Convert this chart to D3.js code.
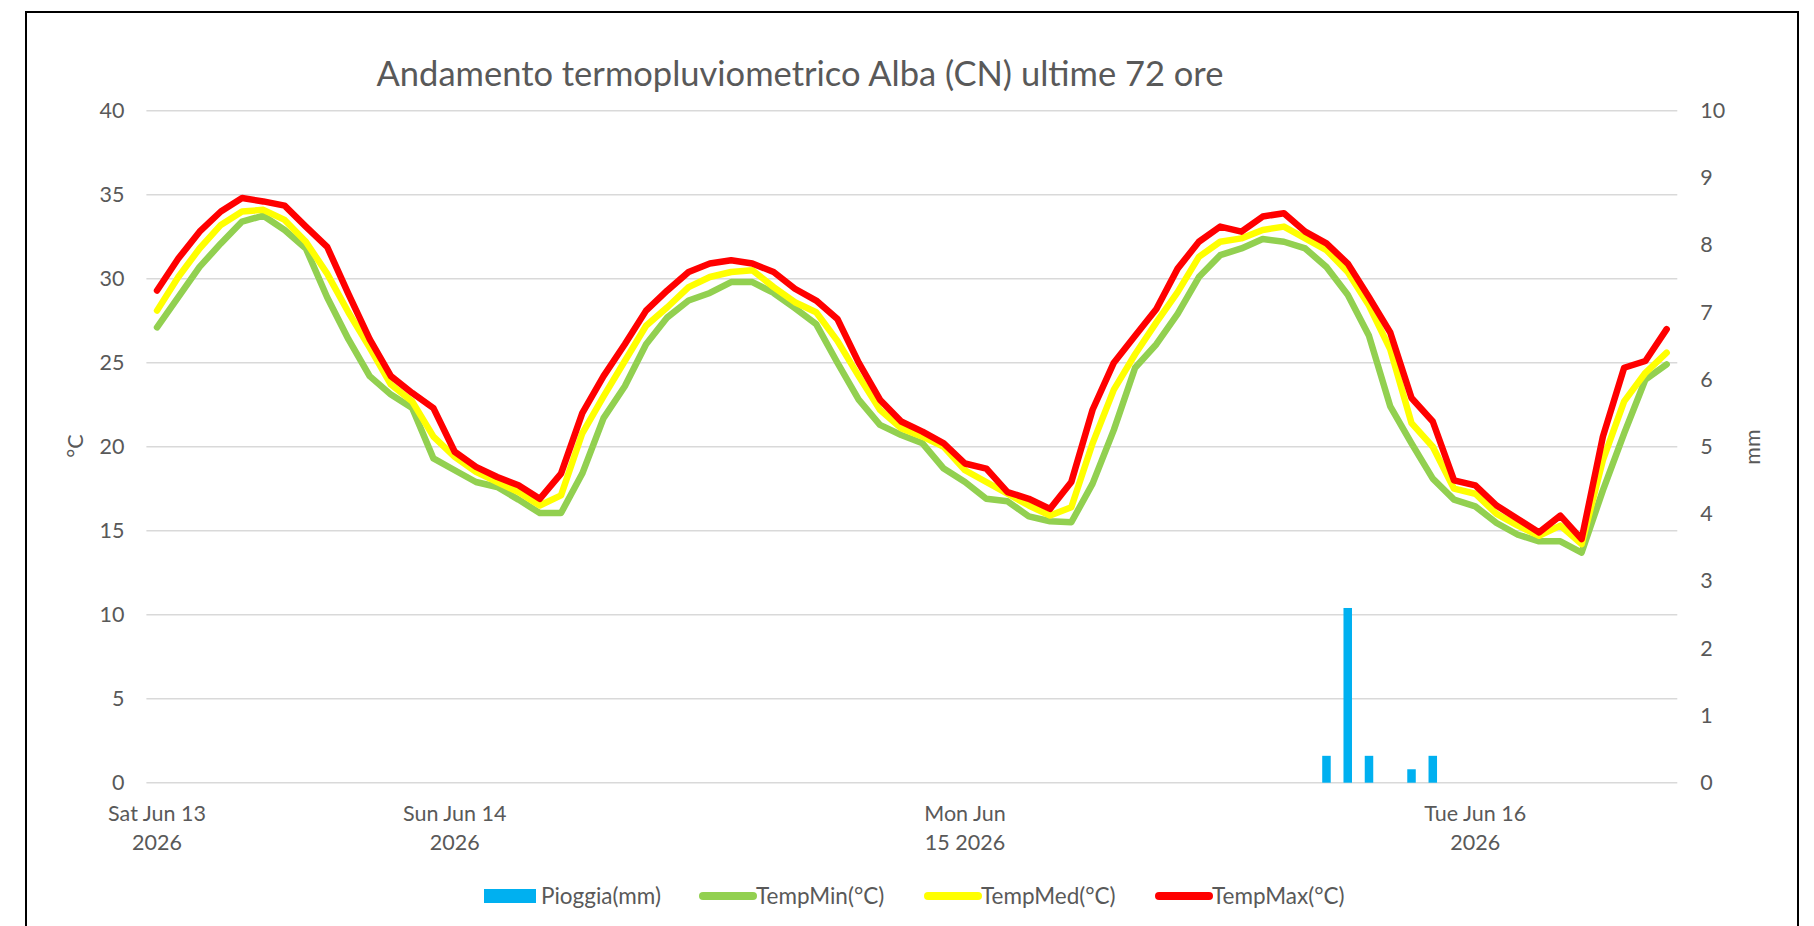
<!DOCTYPE html>
<html>
<head>
<meta charset="utf-8">
<script src="https://cdn.jsdelivr.net/npm/d3@7"></script>
<style>
  body { margin: 0; background: #fff; }
  text { font-family: Lato, "Open Sans", sans-serif; fill: #595959; }
</style>
</head>
<body>
<script>
var width = 1814, height = 926;

// hourly readings, Sat Jun 13 2026 10:00 -> 72 hours
var hours = d3.range(72);

var tempMax = [29.3, 31.2, 32.8, 34.0, 34.8, 34.6, 34.35, 33.1, 31.9, 29.1, 26.4, 24.2,
  23.2, 22.3, 19.7, 18.8, 18.2, 17.7, 16.9, 18.4, 22.0, 24.2, 26.1, 28.1,
  29.3, 30.4, 30.9, 31.1, 30.9, 30.4, 29.4, 28.7, 27.6, 25.0, 22.8, 21.5,
  20.9, 20.2, 19.0, 18.7, 17.3, 16.9, 16.3, 17.9, 22.2, 25.0, 26.6, 28.2,
  30.6, 32.2, 33.1, 32.8, 33.7, 33.9, 32.8, 32.1, 30.9, 28.9, 26.8, 22.9,
  21.5, 18.0, 17.7, 16.5, 15.7, 14.9, 15.9, 14.5, 20.6, 24.7, 25.1, 27.0];

var tempMed = [28.1, 30.1, 31.8, 33.2, 34.0, 34.1, 33.5, 32.2, 30.3, 28.0, 25.9, 23.7,
  22.7, 20.6, 19.4, 18.5, 17.9, 17.3, 16.5, 17.1, 20.8, 23.0, 25.1, 27.2,
  28.3, 29.5, 30.1, 30.4, 30.5, 29.5, 28.6, 28.0, 26.3, 24.2, 22.2, 21.1,
  20.6, 20.0, 18.6, 17.9, 17.2, 16.5, 15.9, 16.4, 20.2, 23.4, 25.5, 27.4,
  29.2, 31.3, 32.2, 32.4, 32.9, 33.1, 32.4, 31.7, 30.4, 28.4, 25.8, 21.4,
  20.0, 17.5, 17.2, 16.0, 15.3, 14.7, 15.3, 14.2, 19.2, 22.7, 24.4, 25.6];

var tempMin = [27.1, 28.9, 30.7, 32.1, 33.4, 33.75, 32.9, 31.8, 28.9, 26.4, 24.2, 23.1,
  22.3, 19.3, 18.6, 17.9, 17.6, 16.85, 16.05, 16.05, 18.4, 21.7, 23.6, 26.1,
  27.7, 28.7, 29.15, 29.8, 29.8, 29.15, 28.25, 27.3, 25.0, 22.8, 21.3, 20.7,
  20.2, 18.7, 17.9, 16.9, 16.75, 15.85, 15.56, 15.5, 17.8, 21.0, 24.7, 26.1,
  27.9, 30.1, 31.4, 31.8, 32.36, 32.2, 31.8, 30.7, 29.05, 26.6, 22.4, 20.2,
  18.1, 16.85, 16.45, 15.46, 14.76, 14.37, 14.37, 13.7, 17.4, 20.8, 24.0, 24.9];

var rain = [0, 0, 0, 0, 0, 0, 0, 0, 0, 0, 0, 0,
  0, 0, 0, 0, 0, 0, 0, 0, 0, 0, 0, 0,
  0, 0, 0, 0, 0, 0, 0, 0, 0, 0, 0, 0,
  0, 0, 0, 0, 0, 0, 0, 0, 0, 0, 0, 0,
  0, 0, 0, 0, 0, 0, 0, 0.4, 2.6, 0.4, 0, 0.2,
  0.4, 0, 0, 0, 0, 0, 0, 0, 0, 0, 0, 0];

// category labels shown on the axis (index into hours)
var xTickIndex = [0, 14, 38, 62];
var xTickLabels = [["Sat Jun 13", "2026"], ["Sun Jun 14", "2026"], ["Mon Jun", "15 2026"], ["Tue Jun 16", "2026"]];

var tempTicks = [0, 5, 10, 15, 20, 25, 30, 35, 40];
var rainTicks = [0, 1, 2, 3, 4, 5, 6, 7, 8, 9, 10];

var series = [
  {name: "TempMin(°C)", values: tempMin, color: "#92D050"},
  {name: "TempMed(°C)", values: tempMed, color: "#FFFF00"},
  {name: "TempMax(°C)", values: tempMax, color: "#FF0000"}
];

var margin = {left: 146.4, right: 1677.3, top: 110.7, bottom: 782.7};

var svg = d3.select("body")
            .append("svg")
            .attr("width", width)
            .attr("height", height);

svg.append("rect")
   .attr("width", width).attr("height", height)
   .attr("fill", "#fff");

// chart border (bottom edge falls outside the picture)
svg.append("rect")
   .attr("x", 26).attr("y", 12)
   .attr("width", 1772).attr("height", 960)
   .attr("fill", "none")
   .attr("stroke", "#000")
   .attr("stroke-width", 2);

var x = d3.scaleBand()
          .domain(hours)
          .range([margin.left, margin.right]);

var yT = d3.scaleLinear()
           .domain([0, 40])
           .range([margin.bottom, margin.top]);

var yR = d3.scaleLinear()
           .domain([0, 10])
           .range([margin.bottom, margin.top]);

// gridlines
svg.append("g")
   .selectAll("line")
   .data(tempTicks)
   .enter()
   .append("line")
   .attr("x1", margin.left).attr("x2", margin.right)
   .attr("y1", function(d) { return yT(d); })
   .attr("y2", function(d) { return yT(d); })
   .attr("stroke", "#D9D9D9")
   .attr("stroke-width", 1.4);

// left axis
var leftAxis = svg.append("g")
   .attr("transform", "translate(" + (margin.left - 22) + ",0)")
   .call(d3.axisLeft(yT).tickValues(tempTicks).tickSize(0).tickPadding(0));
leftAxis.select(".domain").remove();

// right axis
var rightAxis = svg.append("g")
   .attr("transform", "translate(" + (margin.right + 23) + ",0)")
   .call(d3.axisRight(yR).tickValues(rainTicks).tickSize(0).tickPadding(0));
rightAxis.select(".domain").remove();

svg.selectAll(".tick text")
   .attr("font-size", 21.5)
   .attr("font-family", "Lato, 'Open Sans', sans-serif")
   .attr("fill", "#595959");

// bottom category axis
var bottomAxis = svg.append("g")
   .attr("transform", "translate(0," + margin.bottom + ")")
   .call(d3.axisBottom(x).tickValues(xTickIndex).tickSize(0).tickFormat(""));
bottomAxis.select(".domain").remove();

bottomAxis.selectAll(".tick")
   .each(function(d, i) {
     var t = d3.select(this).append("text")
               .attr("text-anchor", "middle")
               .attr("font-size", 21.5)
               .attr("fill", "#595959");
     xTickLabels[i].forEach(function(line, j) {
       t.append("tspan").attr("x", 0).attr("y", 38 + j * 29.5).text(line);
     });
   });

// rain bars
var barW = x.bandwidth() * 0.4;
svg.append("g")
   .selectAll("rect")
   .data(rain)
   .enter()
   .append("rect")
   .attr("x", function(d, i) { return x(i) + (x.bandwidth() - barW) / 2; })
   .attr("y", function(d) { return yR(d); })
   .attr("width", barW)
   .attr("height", function(d) { return yR(0) - yR(d); })
   .attr("fill", "#00B0F0");

// temperature lines
var line = d3.line()
             .x(function(d, i) { return x(i) + x.bandwidth() / 2; })
             .y(function(d) { return yT(d); });

svg.append("g")
   .selectAll("path")
   .data(series)
   .enter()
   .append("path")
   .attr("d", function(d) { return line(d.values); })
   .attr("fill", "none")
   .attr("stroke", function(d) { return d.color; })
   .attr("stroke-width", 6.5)
   .attr("stroke-linejoin", "round")
   .attr("stroke-linecap", "round");

// title
svg.append("text")
   .attr("x", 800).attr("y", 86)
   .attr("text-anchor", "middle")
   .attr("font-size", 34.5)
   .text("Andamento termopluviometrico Alba (CN) ultime 72 ore");

// axis titles
svg.append("text")
   .attr("transform", "translate(75,446) rotate(-90)")
   .attr("text-anchor", "middle")
   .attr("dy", "0.35em")
   .attr("font-size", 21.5)
   .text("°C");

svg.append("text")
   .attr("transform", "translate(1752,447) rotate(-90)")
   .attr("text-anchor", "middle")
   .attr("dy", "0.35em")
   .attr("font-size", 21.5)
   .text("mm");

// legend
var legendItems = [
  {name: "Pioggia(mm)", color: "#00B0F0", type: "bar", x: 484},
  {name: series[0].name, color: series[0].color, type: "line", x: 699},
  {name: series[1].name, color: series[1].color, type: "line", x: 924},
  {name: series[2].name, color: series[2].color, type: "line", x: 1155}
];

var legend = svg.append("g")
                .attr("class", "legend")
                .attr("transform", "translate(0,896)");

legendItems.forEach(function(d) {
  if (d.type == "bar") {
    legend.append("rect")
          .attr("x", d.x).attr("y", -7)
          .attr("width", 52).attr("height", 14)
          .attr("fill", d.color);
  } else {
    legend.append("line")
          .attr("x1", d.x + 4).attr("x2", d.x + 54)
          .attr("stroke", d.color)
          .attr("stroke-width", 8)
          .attr("stroke-linecap", "round");
  }
  legend.append("text")
        .attr("x", d.x + 57)
        .attr("dy", "0.35em")
        .attr("font-size", 22.5)
        .text(d.name);
});
</script>
</body>
</html>
